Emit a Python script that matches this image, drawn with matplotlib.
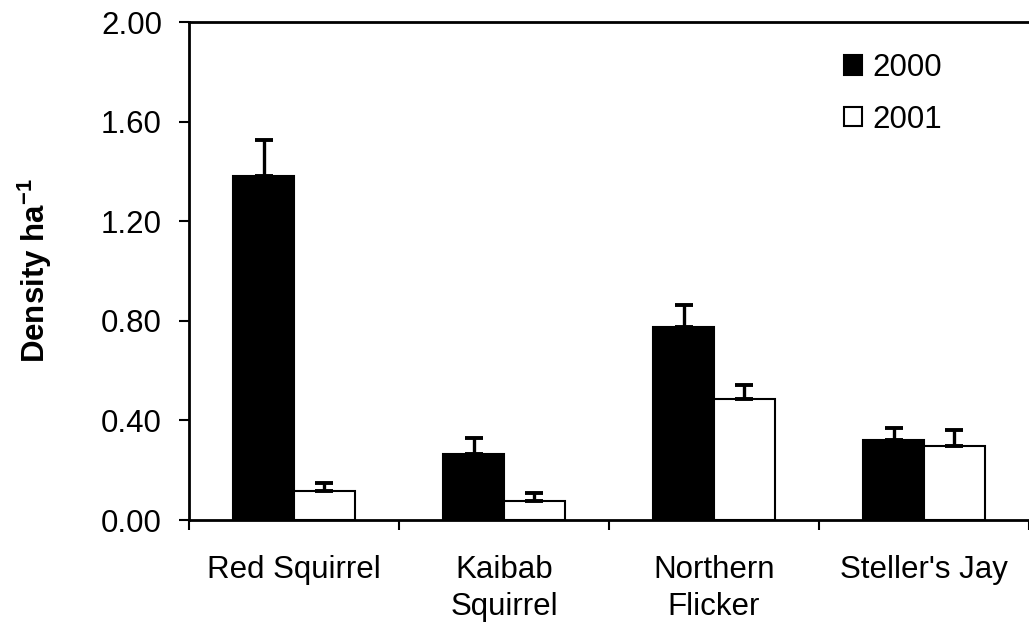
import matplotlib
matplotlib.use("Agg")
import matplotlib.pyplot as plt
import numpy as np

categories = ["Red Squirrel", "Kaibab\nSquirrel", "Northern\nFlicker", "Steller's Jay"]
years = ["2000", "2001"]
density_2000 = [1.38, 0.265, 0.774, 0.321]
density_2001 = [0.118, 0.078, 0.486, 0.297]
err_2000 = [0.146, 0.065, 0.089, 0.050]
err_2001 = [0.029, 0.029, 0.056, 0.064]
yticks = [0.0, 0.4, 0.8, 1.2, 1.6, 2.0]
ytick_labels = ["0.00", "0.40", "0.80", "1.20", "1.60", "2.00"]

plt.rcParams['font.family'] = ['Liberation Sans', 'DejaVu Sans']
FS = 22.5

fig = plt.figure(figsize=(10.29, 6.30), dpi=100)
ax = fig.add_axes([189/1029, 110/630, 1 - 189/1029, (520-22)/630])

x = np.arange(len(categories))
w = 0.29
err_kw = dict(ecolor='black', elinewidth=2.4, capsize=6.5, capthick=2.8)
ax.bar(x - w/2, density_2000, w, color='black', edgecolor='black', linewidth=1.5,
       yerr=[np.zeros(len(x)), err_2000], error_kw=err_kw, label=years[0], zorder=2)
ax.bar(x + w/2, density_2001, w, color='white', edgecolor='black', linewidth=1.5,
       yerr=[np.zeros(len(x)), err_2001], error_kw=err_kw, label=years[1], zorder=2)

ax.set_ylim(0, 2.0)
ax.set_xlim(-0.5, 3.48)
ax.set_yticks(yticks)
ax.set_yticklabels(ytick_labels, fontsize=FS)
ax.tick_params(axis='y', direction='out', length=7.5, width=1.5, pad=12)

# category labels without tick marks; boundary ticks as minor ticks
ax.set_xticks(x)
ax.set_xticklabels(categories, fontsize=FS, linespacing=1.3)
ax.tick_params(axis='x', which='major', length=0, pad=25)
ax.set_xticks(np.arange(-0.5, 4.0, 1.0), minor=True)
ax.tick_params(axis='x', which='minor', direction='out', length=7.5, width=1.5)

for s in ['left', 'bottom', 'top']:
    ax.spines[s].set_linewidth(2.0)
ax.spines['right'].set_visible(False)

ax.set_ylabel("Density ha$^{\\mathregular{-1}}$", fontsize=FS, fontweight='bold', labelpad=34)

leg = fig.legend(loc='upper left', bbox_to_anchor=(844/1029, 1 - 53/630), frameon=False,
                 fontsize=FS, handlelength=0.58, handleheight=0.58, handletextpad=0.32,
                 labelspacing=0.69, borderpad=0, borderaxespad=0)

fig.savefig("out.png", dpi=100)
